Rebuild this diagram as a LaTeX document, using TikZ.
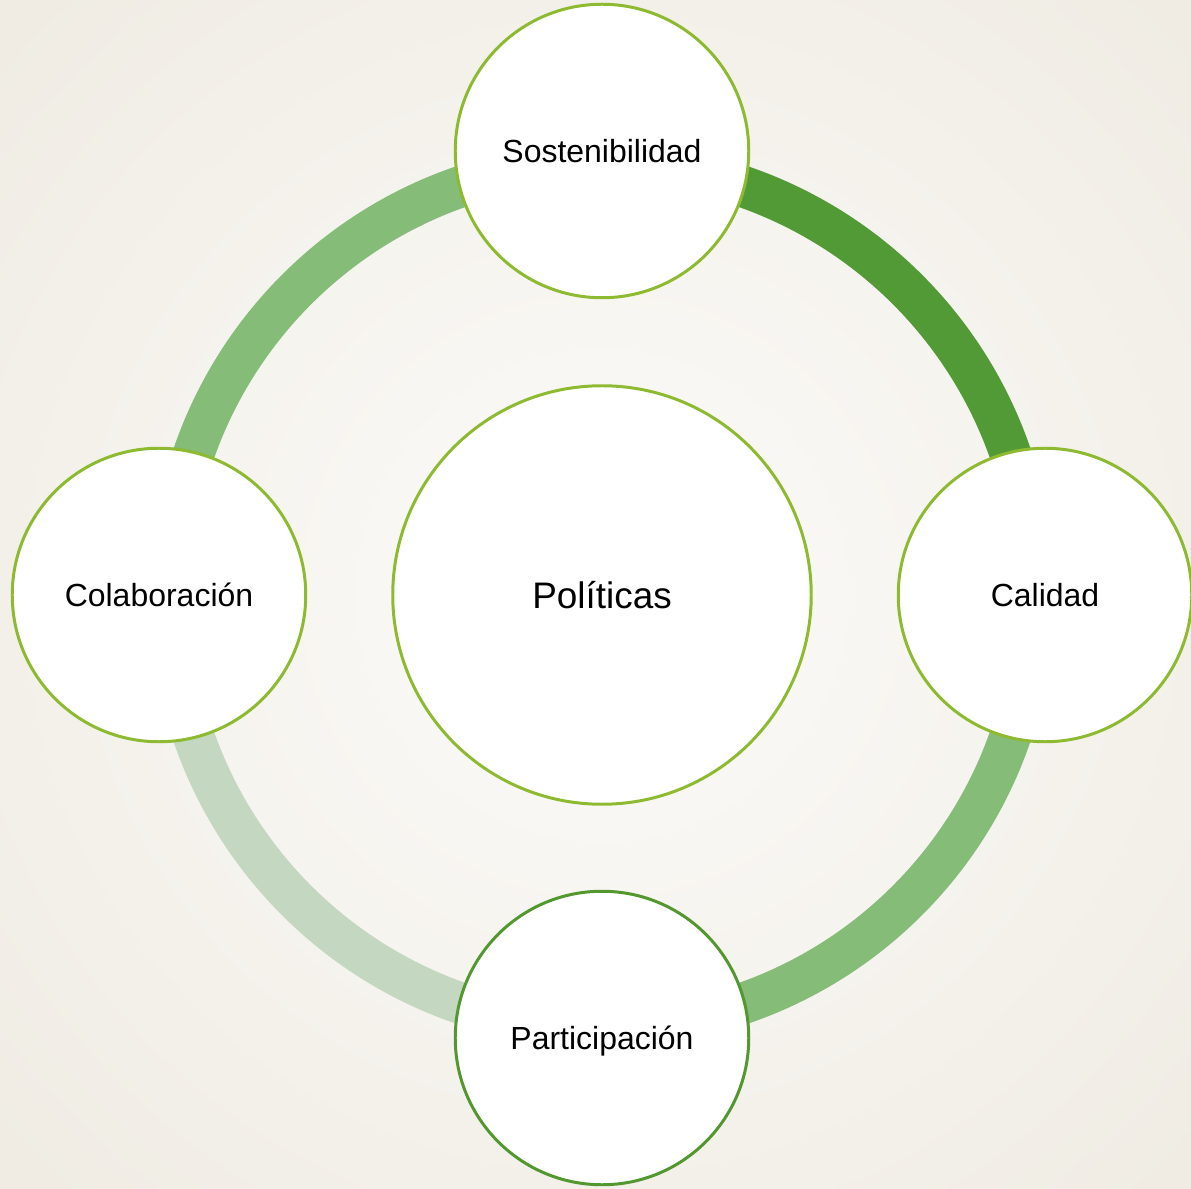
\documentclass[tikz,border=0pt]{standalone}
\usepackage{fontspec}
\setmainfont{Liberation Sans}
\usetikzlibrary{calc,backgrounds}

\definecolor{bgcentre}{HTML}{FCFBF9}
\definecolor{bgedge}{HTML}{E3DCCD}
\definecolor{rimlime}{HTML}{8DBA30}
\definecolor{rimgreen}{HTML}{52982F}
\definecolor{ringdark}{HTML}{529A35}
\definecolor{ringmid}{HTML}{84BC78}
\definecolor{ringpale}{HTML}{C3D7C1}

\pgfdeclareradialshading{bgglow}{\pgfpoint{0bp}{0bp}}{color(0bp)=(bgcentre); color(50bp)=(bgedge)}

\begin{document}
\begin{tikzpicture}[
    theme/.style={circle, draw=rimlime, line width=1.7pt, fill=white,
      minimum size=5.87cm, inner sep=0pt, text depth=0pt,
      font=\fontsize{18.2}{22}\selectfont},
    hub/.style={theme, minimum size=8.37cm, font=\fontsize{21}{25}\selectfont},
    ring/.style={line width=0.83cm}
  ]
    % fix the page size
    \useasboundingbox (-12.04,-11.86) rectangle (11.78,11.9);

    % draw nodes
    \node[hub] (pol) at (0,0) {Políticas};
    \node[theme] (sos) at (0,8.88) {Sostenibilidad};
    \node[theme] (cal) at (8.86,0) {Calidad};
    \node[theme, draw=rimgreen] (par) at (0,-8.86) {Participación};
    \node[theme] (col) at (-8.86,0) {Colaboración};

    \begin{scope}[on background layer]
      % draw background
      \begin{scope}
        \clip (-12.04,-11.86) rectangle (11.78,11.9);
        \shade[shading=bgglow] (-17,-17) rectangle (17,17);
      \end{scope}

      % draw ring arcs
      \draw[ring, ringdark] ($(pol)!0.973!(sos)$) arc[start angle=90, end angle=0, radius=8.64];
      \draw[ring, ringmid] ($(pol)!0.975!(cal)$) arc[start angle=0, end angle=-90, radius=8.64];
      \draw[ring, ringpale] ($(pol)!0.975!(par)$) arc[start angle=-90, end angle=-180, radius=8.64];
      \draw[ring, ringmid] ($(pol)!0.975!(col)$) arc[start angle=180, end angle=90, radius=8.64];
    \end{scope}
  \end{tikzpicture}
\end{document}
